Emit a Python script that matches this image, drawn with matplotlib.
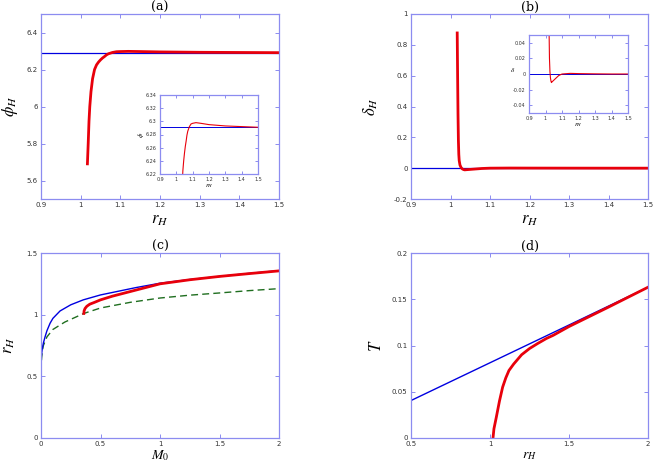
import matplotlib
matplotlib.use("Agg")
import matplotlib.pyplot as plt

plt.rcParams["mathtext.fontset"] = "stix"
plt.rcParams["font.family"] = "DejaVu Sans"

# (a) phi_H versus r_H
r_a = [1.017, 1.019, 1.021, 1.023, 1.026, 1.030, 1.035, 1.040, 1.045, 1.050,
       1.055, 1.060, 1.065, 1.070, 1.080, 1.090, 1.100, 1.120, 1.150, 1.200,
       1.300, 1.400, 1.500]
phi_a = [5.69, 5.80, 5.92, 6.00, 6.08, 6.15, 6.20, 6.225, 6.240, 6.252,
         6.262, 6.270, 6.279, 6.285, 6.292, 6.296, 6.297, 6.298, 6.297, 6.295,
         6.293, 6.292, 6.291]
phi_ref = 6.291

# (b) delta_H versus r_H
r_b = [1.017, 1.018, 1.019, 1.020, 1.021, 1.022, 1.024, 1.027, 1.030, 1.033,
       1.036, 1.040, 1.050, 1.060, 1.070, 1.080, 1.090, 1.100, 1.150, 1.200,
       1.300, 1.400, 1.500]
delta_b = [0.877, 0.60, 0.35, 0.18, 0.09, 0.05, 0.02, 0.003, -0.005, -0.009,
           -0.011, -0.010, -0.008, -0.006, -0.004, -0.002, -0.001, 0.0, 0.0008,
           0.0005, 0.0002, 0.0, 0.0]
delta_ref = 0.0

# (c) r_H versus M_0
m_blue = [0.0, 0.003, 0.01, 0.02, 0.034, 0.05, 0.076, 0.1, 0.16, 0.25, 0.355,
          0.5, 0.65, 0.8, 1.0, 1.25, 1.5, 1.75, 2.0]
r_blue = [0.62, 0.66, 0.72, 0.77, 0.82, 0.87, 0.93, 0.97, 1.03, 1.08, 1.12,
          1.16, 1.19, 1.22, 1.255, 1.285, 1.31, 1.335, 1.357]
m_green = [0.0, 0.0, 0.003, 0.01, 0.02, 0.05, 0.1, 0.2, 0.36, 0.5, 0.75, 1.0,
           1.25, 1.5, 1.75, 2.0]
r_green = [0.0, 0.5, 0.62, 0.70, 0.75, 0.82, 0.88, 0.94, 1.01, 1.054, 1.10,
           1.135, 1.158, 1.176, 1.195, 1.211]
m_red = [0.36, 0.362, 0.37, 0.385, 0.41, 0.45, 0.5, 0.6, 0.7, 0.8, 1.0, 1.25,
         1.5, 1.75, 2.0]
r_red = [1.01, 1.03, 1.05, 1.068, 1.085, 1.10, 1.12, 1.15, 1.175, 1.20, 1.25,
         1.283, 1.31, 1.333, 1.355]

# (d) T versus r_H
r_d_blue = [0.5, 2.0]
t_d_blue = [0.0405, 0.163]
r_d_red = [1.019, 1.025, 1.04, 1.06, 1.08, 1.10, 1.12, 1.15, 1.17, 1.20, 1.25,
           1.30, 1.357, 1.40, 1.50, 1.75, 2.0]
t_d_red = [0.0, 0.010, 0.0225, 0.040, 0.055, 0.065, 0.073, 0.080, 0.084,
           0.090, 0.0967, 0.102, 0.1076, 0.111, 0.1205, 0.1415, 0.163]

W, H = 654, 462
FRAME = "#8c8cf0"
RED = "#e8000b"
BLUE = "#0000e0"
GREEN = "#1f6e1f"


def px_axes(fig, left, top, right, bottom):
    """Create axes from pixel box coordinates."""
    return fig.add_axes([left / W, 1 - bottom / H, (right - left) / W, (bottom - top) / H])


def style(ax, xlim, ylim, xticks, yticks, fs=5, tl=3):
    ax.set_xlim(*xlim)
    ax.set_ylim(*ylim)
    ax.set_xticks(xticks)
    ax.set_yticks(yticks)
    ax.set_xticklabels([f"{v:g}" for v in xticks])
    ax.set_yticklabels([f"{v:g}" for v in yticks])
    for s in ax.spines.values():
        s.set_color(FRAME)
        s.set_linewidth(0.9)
    ax.tick_params(direction="in", top=True, right=True, length=tl, width=0.7,
                   color=FRAME, labelsize=fs, labelcolor="#333333", pad=2.5)


fig = plt.figure(figsize=(W / 100, H / 100), dpi=100)

label_kw = dict(fontsize=12)
bottom_kw = dict(fontsize=10)

# (a)
ax = px_axes(fig, 41, 14, 279, 199)
ax.axhline(phi_ref, color=BLUE, lw=0.9)
ax.plot(r_a, phi_a, color=RED, lw=2.0)
style(ax, (0.9, 1.5), (5.5, 6.5), [0.9, 1.0, 1.1, 1.2, 1.3, 1.4, 1.5],
      [5.6, 5.8, 6.0, 6.2, 6.4])
ax.set_title("(a)", fontsize=9, family="DejaVu Serif", pad=2)
ax.set_xlabel(r"$r_H$", **label_kw)
ax.set_ylabel(r"$\phi_H$", **label_kw)
ax.xaxis.set_label_coords(0.5, -0.06)
ax.yaxis.set_label_coords(-0.09, 0.5)

ins = px_axes(fig, 160, 95, 258, 174)
ins.axhline(phi_ref, color=BLUE, lw=0.7)
ins.plot(r_a, phi_a, color=RED, lw=0.8)
style(ins, (0.9, 1.5), (6.22, 6.34), [0.9, 1.0, 1.1, 1.2, 1.3, 1.4, 1.5],
      [6.22, 6.24, 6.26, 6.28, 6.3, 6.32, 6.34], fs=3.5, tl=2)
ins.set_xlabel(r"$r_H$", fontsize=5, labelpad=0)
ins.set_ylabel(r"$\phi$", fontsize=5, labelpad=0)

# (b)
ax = px_axes(fig, 411, 14, 648, 199)
ax.axhline(delta_ref, color=BLUE, lw=0.9)
ax.plot(r_b, delta_b, color=RED, lw=2.0)
style(ax, (0.9, 1.5), (-0.2, 1.0), [0.9, 1.0, 1.1, 1.2, 1.3, 1.4, 1.5],
      [-0.2, 0, 0.2, 0.4, 0.6, 0.8, 1])
ax.set_title("(b)", fontsize=9, family="DejaVu Serif", pad=2)
ax.set_xlabel(r"$r_H$", **label_kw)
ax.set_ylabel(r"$\delta_H$", **label_kw)
ax.xaxis.set_label_coords(0.5, -0.06)
ax.yaxis.set_label_coords(-0.13, 0.5)

ins = px_axes(fig, 529, 35, 628, 113)
ins.axhline(delta_ref, color=BLUE, lw=0.7)
ins.plot(r_b, delta_b, color=RED, lw=0.8)
style(ins, (0.9, 1.5), (-0.05, 0.05), [0.9, 1.0, 1.1, 1.2, 1.3, 1.4, 1.5],
      [-0.04, -0.02, 0, 0.02, 0.04], fs=3.5, tl=2)
ins.set_xlabel(r"$r_H$", fontsize=5, labelpad=0)
ins.set_ylabel(r"$\delta$", fontsize=5, labelpad=0, rotation=0)

# (c)
ax = px_axes(fig, 41, 253, 279, 438)
ax.plot(m_green, r_green, color=GREEN, lw=1.0, dashes=(5, 3))
ax.plot(m_blue, r_blue, color=BLUE, lw=1.0)
ax.plot(m_red, r_red, color=RED, lw=2.0)
style(ax, (0, 2), (0, 1.5), [0, 0.5, 1, 1.5, 2], [0, 0.5, 1, 1.5])
ax.set_title("(c)", fontsize=9, family="DejaVu Serif", pad=2)
ax.set_xlabel(r"$M_0$", **bottom_kw)
ax.set_ylabel(r"$r_H$", **label_kw)
ax.xaxis.set_label_coords(0.5, -0.055)
ax.yaxis.set_label_coords(-0.10, 0.5)

# (d)
ax = px_axes(fig, 411, 253, 648, 438)
ax.plot(r_d_blue, t_d_blue, color=BLUE, lw=1.0)
ax.plot(r_d_red, t_d_red, color=RED, lw=2.0)
style(ax, (0.5, 2), (0, 0.2), [0.5, 1, 1.5, 2], [0, 0.05, 0.1, 0.15, 0.2])
ax.set_title("(d)", fontsize=9, family="DejaVu Serif", pad=2)
ax.set_xlabel(r"$r_H$", **bottom_kw)
ax.set_ylabel(r"$T$", **label_kw)
ax.xaxis.set_label_coords(0.5, -0.055)
ax.yaxis.set_label_coords(-0.11, 0.5)

fig.savefig("out.png", dpi=100)
